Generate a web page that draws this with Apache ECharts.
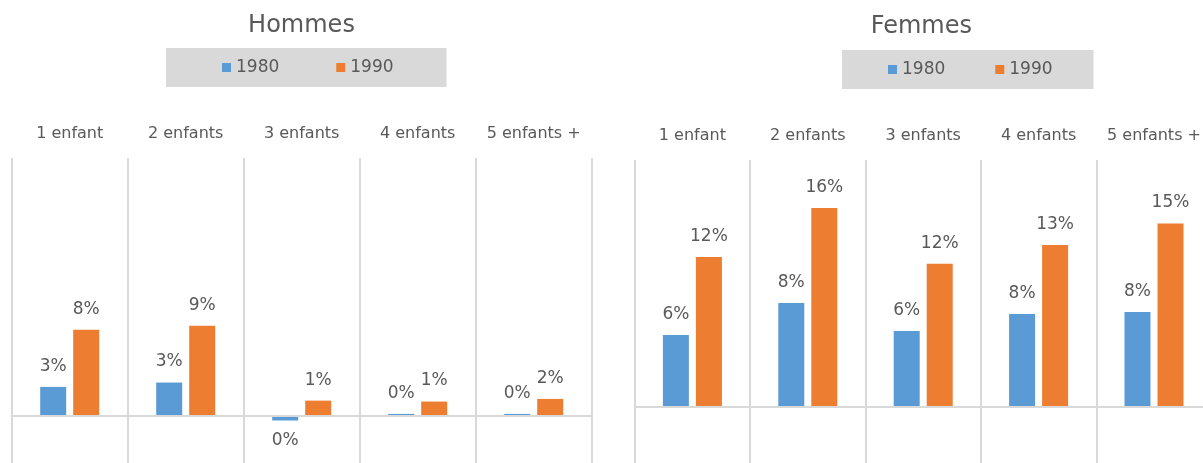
<!DOCTYPE html>
<html>
<head>
<meta charset="utf-8">
<script src="https://cdn.jsdelivr.net/npm/echarts@6/dist/echarts.min.js"></script>
<style>
html,body{margin:0;padding:0;background:#fff;}
#chart{width:1203px;height:463px;}
</style>
</head>
<body>
<div id="chart"></div>
<script>
// ---- data ----
const categories = ['1 enfant', '2 enfants', '3 enfants', '4 enfants', '5 enfants +'];
const seriesNames = ['1980', '1990'];
const panelTitles = ['Hommes', 'Femmes'];
// values in percent
const hommes1980 = [2.76, 3.17, -0.40, 0.22, 0.22];
const hommes1990 = [8.15, 8.52, 1.47, 1.38, 1.63];
const femmes1980 = [5.85, 8.47, 6.18, 7.57, 7.73];
const femmes1990 = [12.22, 16.22, 11.67, 13.2, 14.96];

const BLUE = '#5B9BD5', ORANGE = '#ED7D31', GREY = '#D9D9D9', TXT = '#595959';
const FONT = 'DejaVu Sans';

function pctLabel(p) {
  const r = Math.round(p.value);
  return String(r === 0 ? 0 : r) + '%';
}

function barSeries(name, data, color, gridIdx, withBase) {
  const s = {
    name: name,
    type: 'bar',
    xAxisIndex: gridIdx,
    yAxisIndex: gridIdx,
    data: data,
    barWidth: 26,
    barGap: '27%',
    itemStyle: { color: color },
    emphasis: { disabled: true },
    label: {
      show: true,
      position: 'outside',
      distance: 12,
      color: TXT,
      fontFamily: FONT,
      fontSize: 17,
      formatter: pctLabel
    }
  };
  if (withBase) {
    s.markLine = {
      silent: true,
      symbol: ['none', 'none'],
      label: { show: false },
      lineStyle: { color: GREY, width: 2, type: 'solid' },
      emphasis: { disabled: true },
      data: [{ yAxis: 0 }]
    };
  }
  return s;
}

function xAxisFor(gridIdx) {
  return {
    type: 'category',
    gridIndex: gridIdx,
    data: categories,
    position: 'top',
    axisLine: { show: false, onZero: false },
    axisTick: { show: false },
    axisLabel: { color: TXT, fontFamily: FONT, fontSize: 16, margin: 16, interval: 0, hideOverlap: false },
    splitLine: { show: true, interval: 0, lineStyle: { color: GREY, width: 2 } }
  };
}

const chart = echarts.init(document.getElementById('chart'), null, { renderer: 'canvas' });
chart.setOption({
  animation: false,
  backgroundColor: '#fff',
  title: [
    { text: panelTitles[0], left: 301.5, top: 13.5, textAlign: 'center', padding: 0,
      textStyle: { color: TXT, fontFamily: FONT, fontSize: 24, fontWeight: 'normal' } },
    { text: panelTitles[1], left: 921.3, top: 15, textAlign: 'center', padding: 0,
      textStyle: { color: TXT, fontFamily: FONT, fontSize: 24, fontWeight: 'normal' } }
  ],
  legend: [
    { data: seriesNames, left: 166, top: 48, padding: [11, 53, 11, 56], itemGap: 57,
      icon: 'rect', itemWidth: 9, itemHeight: 9, backgroundColor: GREY, selectedMode: false,
      textStyle: { color: TXT, fontFamily: FONT, fontSize: 17, lineHeight: 17 } },
    { data: seriesNames, left: 842, top: 50, padding: [11, 41, 11, 46], itemGap: 50,
      icon: 'rect', itemWidth: 9, itemHeight: 9, backgroundColor: GREY, selectedMode: false,
      textStyle: { color: TXT, fontFamily: FONT, fontSize: 17, lineHeight: 17 } }
  ],
  grid: [
    { left: 11.7, right: 611.3, top: 158, bottom: 0, outerBoundsMode: 'none', containLabel: false },
    { left: 634.7, right: -8.7, top: 160, bottom: 0, outerBoundsMode: 'none', containLabel: false }
  ],
  xAxis: [xAxisFor(0), xAxisFor(1)],
  yAxis: [
    { type: 'value', gridIndex: 0, min: -4.4, max: 24.3, show: false, splitLine: { show: false } },
    { type: 'value', gridIndex: 1, min: -4.6, max: 20.14, show: false, splitLine: { show: false } }
  ],
  series: [
    barSeries(seriesNames[0], hommes1980, BLUE, 0, true),
    barSeries(seriesNames[1], hommes1990, ORANGE, 0, false),
    barSeries(seriesNames[0], femmes1980, BLUE, 1, true),
    barSeries(seriesNames[1], femmes1990, ORANGE, 1, false)
  ]
});
</script>
</body>
</html>
